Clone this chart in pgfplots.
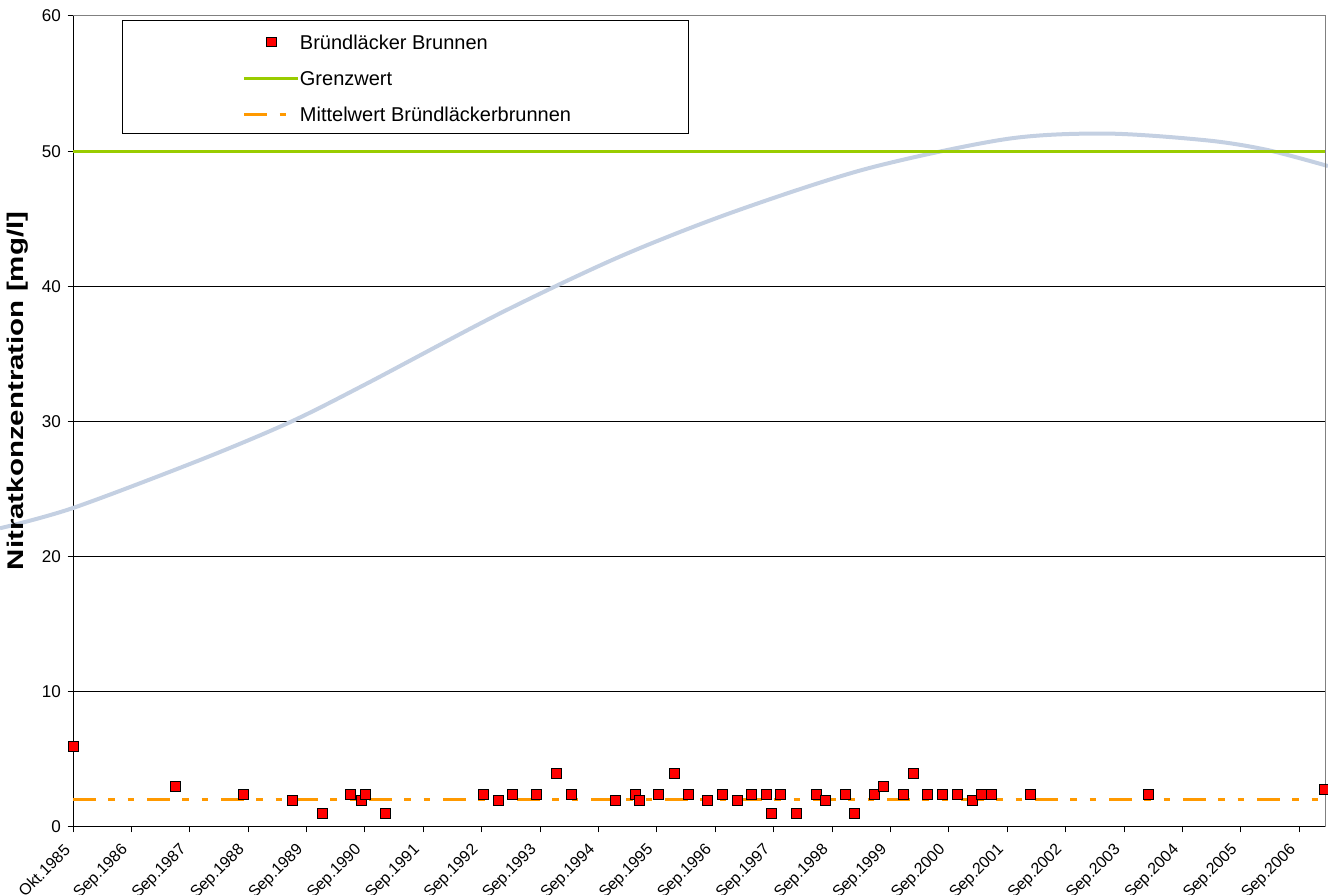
\documentclass[border=0pt]{standalone}
\usepackage{fontspec}
\setmainfont{Liberation Sans}
\usepackage{pgfplots}
\pgfplotsset{compat=1.18}
\usepackage{graphicx}

\definecolor{markred}{RGB}{255,0,0}
\definecolor{grenz}{RGB}{153,204,0}
\definecolor{mittel}{RGB}{255,153,0}
\definecolor{trend}{RGB}{196,208,226}
\definecolor{rahmen}{RGB}{128,128,128}

\begin{document}
\begin{tikzpicture}
\useasboundingbox (0,0) rectangle (996pt,671.25pt);
\begin{axis}[
    at={(54.75pt,51pt)}, anchor=south west,
    scale only axis, width=939pt, height=608.25pt,
    xmin=0, xmax=21.44, ymin=0, ymax=60,
    clip=false,
    axis x line*=bottom, axis y line*=left,
    axis line style={black, line width=0.75pt, -},
    xtick={0,...,21}, ytick={0,10,...,60},
    xticklabels={Okt.1985,Sep.1986,Sep.1987,Sep.1988,Sep.1989,Sep.1990,
        Sep.1991,Sep.1992,Sep.1993,Sep.1994,Sep.1995,Sep.1996,Sep.1997,
        Sep.1998,Sep.1999,Sep.2000,Sep.2001,Sep.2002,Sep.2003,Sep.2004,
        Sep.2005,Sep.2006},
    tick align=outside, major tick length=4pt,
    tick style={black, line width=0.75pt},
    ymajorgrids, major grid style={black, line width=0.75pt},
    /pgf/number format/assume math mode=true,
    xticklabel style={xshift=-2pt, yshift=-9pt, rotate=45, anchor=east,
        font=\fontsize{12}{14}\selectfont},
    yticklabel style={font=\fontsize{12.8}{15}\selectfont, xshift=-1.5pt},
    every axis y label/.style={at={(rel axis cs:-0.0439,0.5376)}, rotate=90, anchor=center},
    ylabel={\scalebox{1.3}[1]{\fontsize{17}{20}\bfseries Nitratkonzentration [mg/l]}},
    reverse legend,
    legend style={at={(0.1355,0.9771)}, anchor=north west, draw=none, fill=none,
        inner sep=0pt, row sep=16.5pt, font=\fontsize{15}{18}\selectfont,
        nodes={inner sep=0pt, text height=10.74pt, text depth=0pt},
        cells={anchor=west}},
    legend image code/.code={\draw[mark repeat=2,mark phase=2,#1]
        plot coordinates {(0pt,0pt) (20.25pt,0pt) (40.5pt,0pt)};},
]
% Trendlinie
\addplot[trend, line width=3pt, smooth, forget plot] coordinates {
    (-1.25,22.1) (0,23.6) (2.175,27.15) (3.716,29.95) (5.029,32.8)
    (7.312,38.0) (9.366,42.2) (11.307,45.5) (13.591,48.7) (15.988,50.9)
    (17.70,51.3) (19.413,50.8) (20.44,50.1) (21.49,48.9)};
\addplot[mittel, line width=2.25pt,
    dash pattern=on 17pt off 9.5pt on 5pt off 9.5pt on 5pt off 9.5pt]
    coordinates {(0,2) (21.44,2)};
\addlegendentry{Mittelwert Bründläckerbrunnen}
\addplot[grenz, line width=2.25pt] coordinates {(0,50) (21.44,50)};
\addlegendentry{Grenzwert}
\addplot[only marks, mark=square*, mark size=3.75pt,
    mark options={draw=none, fill=markred},
    legend image post style={mark size=3.5pt}] coordinates {
    (0,6) (1.747,3) (2.92,2.4) (3.755,2) (4.26,1) (4.75,2.4) (4.93,2)
    (5.01,2.4) (5.35,1) (7.02,2.4) (7.28,2) (7.52,2.4) (7.94,2.4) (8.28,4)
    (8.53,2.4) (9.28,2) (9.62,2.4) (9.70,2) (10.03,2.4) (10.29,4) (10.54,2.4)
    (10.87,2) (11.12,2.4) (11.38,2) (11.62,2.4) (11.88,2.4) (11.96,1)
    (12.12,2.4) (12.38,1) (12.72,2.4) (12.88,2) (13.22,2.4) (13.38,1)
    (13.72,2.4) (13.88,3) (14.22,2.4) (14.39,4) (14.63,2.4) (14.89,2.4)
    (15.14,2.4) (15.40,2) (15.56,2.4) (15.72,2.4) (16.40,2.4) (18.41,2.4)
    (21.42,2.8)};
\addlegendentry{Bründläcker Brunnen}
% Rahmen der Zeichenfläche und der Legende
\draw[rahmen, line width=0.75pt] (rel axis cs:0,1) -- (rel axis cs:1,1) -- (rel axis cs:1,0);
\draw[black, line width=0.75pt] (rel axis cs:0.0399,0.995) rectangle (rel axis cs:0.492,0.8557);
\end{axis}
\end{tikzpicture}
\end{document}
